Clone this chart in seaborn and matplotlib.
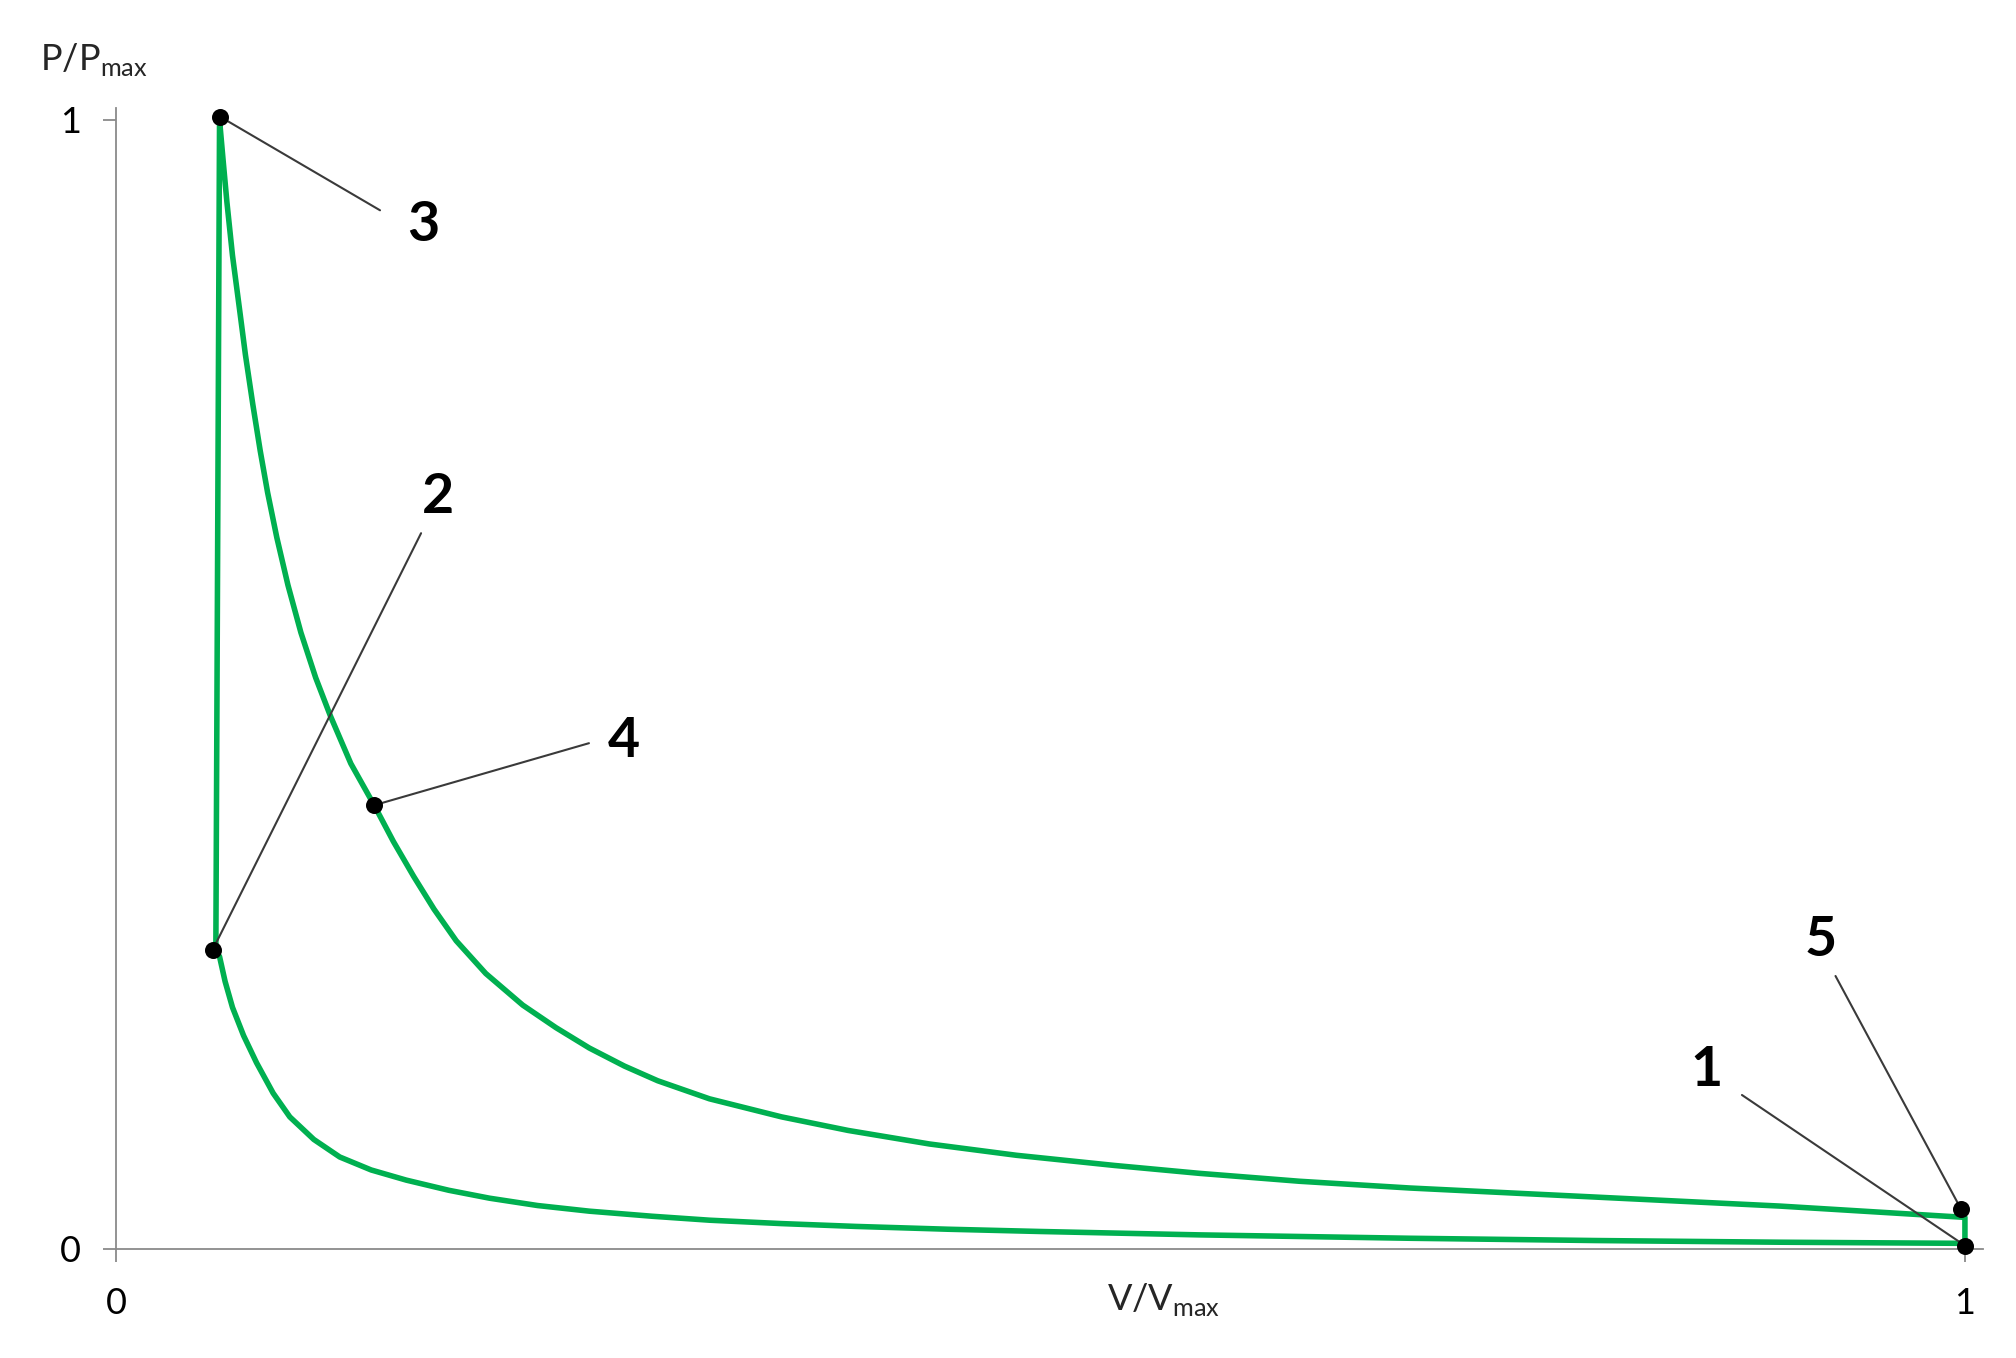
import numpy as np
import pandas as pd
import matplotlib
matplotlib.use('Agg')
import matplotlib.pyplot as plt
import seaborn as sns

# Values (V/Vmax, P/Pmax)
compression_v = [1.0, 0.95, 0.90, 0.80, 0.70, 0.586, 0.50, 0.45, 0.40, 0.36, 0.321,
                 0.29, 0.256, 0.228, 0.202, 0.18, 0.157, 0.138, 0.121, 0.107, 0.094,
                 0.085, 0.076, 0.069, 0.063, 0.059, 0.056, 0.054]
compression_p = [0.005, 0.0055, 0.006, 0.0075, 0.0095, 0.0125, 0.0155, 0.0175, 0.020, 0.0225,
                 0.0255, 0.029, 0.0335, 0.0385, 0.045, 0.052, 0.061, 0.070, 0.0815, 0.097,
                 0.117, 0.138, 0.165, 0.189, 0.214, 0.237, 0.259, 0.264]

expansion_v = [0.056, 0.058, 0.060, 0.063, 0.067, 0.070, 0.074, 0.078, 0.082, 0.087,
               0.093, 0.100, 0.108, 0.116, 0.127, 0.140, 0.150, 0.161, 0.172, 0.184,
               0.200, 0.220, 0.238, 0.256, 0.275, 0.293, 0.321, 0.36, 0.396, 0.44,
               0.487, 0.54, 0.586, 0.64, 0.70, 0.75, 0.80, 0.85, 0.90, 0.95, 1.0, 1.0]
expansion_p = [1.0, 0.963, 0.927, 0.880, 0.830, 0.792, 0.748, 0.707, 0.670, 0.630,
               0.588, 0.546, 0.506, 0.472, 0.430, 0.392, 0.361, 0.330, 0.301, 0.273,
               0.244, 0.216, 0.196, 0.178, 0.162, 0.149, 0.133, 0.117, 0.105, 0.093,
               0.083, 0.074, 0.067, 0.060, 0.054, 0.050, 0.046, 0.042, 0.038, 0.033,
               0.028, 0.005]

point_names = ['1', '2', '3', '4', '5']
point_v = [1.0, 0.0523, 0.0562, 0.1395, 0.998]
point_p = [0.003, 0.265, 1.003, 0.393, 0.035]

# label text position and leader-line start, in data units
label_v = [0.8605, 0.174, 0.166, 0.2747, 0.922]
label_p = [0.1585, 0.666, 0.907, 0.450, 0.2737]
leader_v = [0.8794, 0.165, 0.1428, 0.2558, 0.930]
leader_p = [0.1364, 0.634, 0.920, 0.448, 0.2418]

cycle = pd.DataFrame({
    'V': compression_v + expansion_v,
    'P': compression_p + expansion_p,
})
points = pd.DataFrame({'V': point_v, 'P': point_p, 'name': point_names})

sns.set_style('white')
plt.rcParams['font.family'] = ['Lato', 'DejaVu Sans']
plt.rcParams['mathtext.fontset'] = 'custom'
plt.rcParams['mathtext.rm'] = 'Lato'

fig = plt.figure(figsize=(20.16, 13.58), dpi=100)
ax = fig.add_axes([0.05754, 0.08027, 0.9263, 0.8402])

green = '#00B050'
axis_grey = '#8a8a8a'

sns.lineplot(data=cycle, x='V', y='P', sort=False, estimator=None, ax=ax,
             color=green, linewidth=4.0, clip_on=False,
             solid_joinstyle='round', solid_capstyle='round')

for lv, lp, pv, pp in zip(leader_v, leader_p, point_v, point_p):
    ax.plot([lv, pv], [lp, pp], color='#3a3a3a', linewidth=1.5, clip_on=False, zorder=3)

sns.scatterplot(data=points, x='V', y='P', ax=ax, color='black', s=150,
                edgecolor='black', linewidth=0, zorder=4, clip_on=False)

for name, tv, tp in zip(point_names, label_v, label_p):
    ax.text(tv, tp, name, fontsize=40, fontweight='bold', ha='center', va='center',
            color='black')

ax.set_xlim(0, 1.01)
ax.set_ylim(0, 1.0106)
ax.set_xticks([0, 1])
ax.set_yticks([0, 1])
ax.set_xticklabels(['0', '1'])
ax.set_yticklabels(['0', '1'])
ax.set_xlabel('')
ax.set_ylabel('')

for side in ['top', 'right']:
    ax.spines[side].set_visible(False)
for side in ['left', 'bottom']:
    ax.spines[side].set_color(axis_grey)
    ax.spines[side].set_linewidth(1.3)

ax.tick_params(axis='both', direction='out', length=9.5, width=1.3, color=axis_grey,
               labelsize=26, labelcolor='black')
ax.tick_params(axis='x', pad=18, bottom=True)
ax.tick_params(axis='y', pad=16, left=True)

fig.text(0.0198, 0.9485, r'P/P$_{\mathrm{max}}$', fontsize=26, ha='left', va='baseline')
fig.text(0.577, 0.0353, r'V/V$_{\mathrm{max}}$', fontsize=26, ha='center', va='baseline')

fig.savefig('out.png', dpi=100, facecolor='white')
